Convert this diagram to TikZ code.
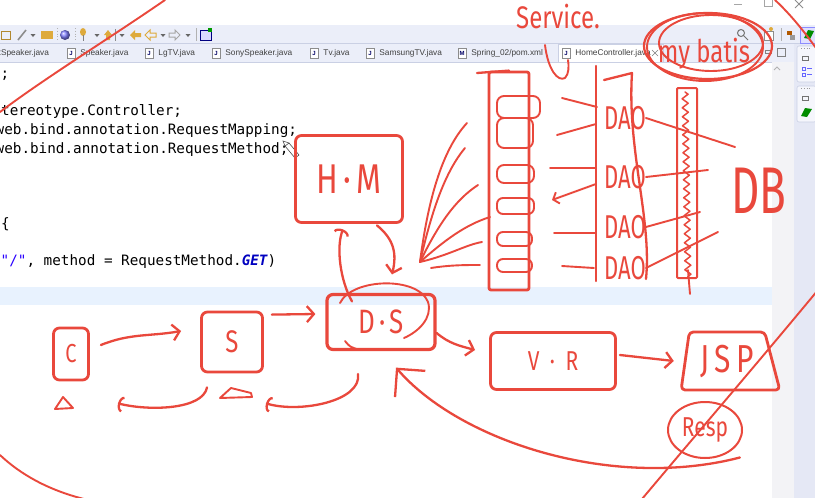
\documentclass[tikz,border=0pt]{standalone}
\usepackage{fontspec}
\usepackage{graphicx}
\usepackage{xcolor}
\usetikzlibrary{arrows.meta,positioning,shapes.geometric,decorations.pathmorphing}

\newfontfamily\codefont{DejaVu Sans Mono}
\newfontfamily\uifont{Liberation Sans}
\newfontfamily\handfont{Fira Sans}

\definecolor{ink}{RGB}{233,72,60}
\definecolor{barbg}{RGB}{235,238,249}
\definecolor{barline}{RGB}{202,208,228}
\definecolor{curline}{RGB}{232,242,254}
\definecolor{strblue}{RGB}{42,0,255}
\definecolor{kwblue}{RGB}{0,0,192}
\definecolor{scrollbg}{RGB}{243,243,246}
\definecolor{panelbg}{RGB}{229,232,245}
\definecolor{icongold}{RGB}{222,170,60}

\newcommand{\tallish}[2][1.3]{\scalebox{1}[#1]{#2}}

\tikzset{
    inkline/.style={
        draw=ink,
        line width=2.3pt,
        line cap=round,
        line join=round
    },
    thinink/.style={
        inkline,
        line width=1.9pt
    },
    handbox/.style={
        inkline,
        line width=2.8pt,
        rounded corners=6pt,
        inner sep=0pt
    },
    handtext/.style={
        text=ink,
        inner sep=0pt,
        font=\handfont\fontsize{#1}{#1}\selectfont
    },
    barbtip/.style={
        -{Straight Barb[length=7pt,width=16pt]}
    },
    bigbarbtip/.style={
        -{Straight Barb[length=20pt,width=40pt]}
    },
    hooktip/.style={
        -{Arc Barb[length=5pt,width=16pt]}
    },
    codeline/.style={
        anchor=base west,
        inner sep=0pt,
        font=\codefont\fontsize{14.3}{16}\selectfont
    },
    tablabel/.style={
        anchor=west,
        inner sep=0pt,
        text=black!75,
        font=\uifont\fontsize{8.3}{10}\selectfont
    },
    tabicon/.style={
        draw=black!45,
        fill=white,
        line width=0.5pt,
        minimum width=8pt,
        minimum height=10pt,
        inner sep=0pt,
        text=blue!40!black,
        font=\uifont\fontsize{6}{6}\selectfont\bfseries
    }
}

\begin{document}
\begin{tikzpicture}[x=1pt,y=-1pt]
    \useasboundingbox (0,0) rectangle (815,498);
    \clip (0,0) rectangle (815,498);
    \fill[white] (0,0) rectangle (815,498);

    % eclipse window
    \fill[barbg] (0,25) rectangle (815,62);
    \draw[barline, line width=0.6pt] (0,43.5) -- (815,43.5);
    \draw[barline, line width=0.8pt] (0,62) -- (772,62);
    \filldraw[fill=white, draw=barline, line width=0.6pt] (558,62.4) -- (558,44.5) -- (663,44.5) -- (663,62.4);
    \fill[scrollbg] (772,62.4) rectangle (794,498);
    \fill[panelbg] (794,44) rectangle (815,498);
    \fill[curline] (0,287) rectangle (772,305);

    \draw[black!35, line width=0.8pt] (734,4) -- (742,4);
    \draw[black!35, line width=0.8pt] (764,-1) rectangle (772,6);
    \draw[black!45, line width=0.8pt] (795,0) -- (803,8) (803,0) -- (795,8);

    % toolbar
    \draw[icongold!80!black, line width=1pt] (1,31) rectangle (10,39);
    \draw[black!45, line width=1.6pt] (18,40) -- (26,30);
    \fill[icongold] (41,31) rectangle (53,39);
    \draw[black!30, dotted, line width=0.8pt] (57,28) -- (57,41);
    \shade[ball color=blue!50] (65,35) circle [radius=5pt];
    \draw[black!30, dotted, line width=0.8pt] (75,28) -- (75,41);
    \fill[icongold] (83,32) ellipse [x radius=3pt, y radius=4pt];
    \draw[black!50, line width=0.8pt] (83,35) -- (83,41);
    \fill[icongold] (104,35) -- (108,30) -- (112,35) -- (110,35) -- (110,40) -- (106,40) -- (106,35) -- cycle;
    \draw[black!45, line width=0.8pt] (115,29) -- (115,41);
    \fill[icongold] (130,35) -- (135,30) -- (135,33) -- (141,33) -- (141,37) -- (135,37) -- (135,40) -- cycle;
    \draw[icongold, line width=1pt] (145,35) -- (150,30) -- (150,33) -- (156,33) -- (156,37) -- (150,37) -- (150,40) -- cycle;
    \draw[black!35, line width=1pt] (180,35) -- (175,30) -- (175,33) -- (169,33) -- (169,37) -- (175,37) -- (175,40) -- cycle;
    \draw[black!30, line width=0.8pt] (196,28) -- (196,41);
    \filldraw[fill=blue!15, draw=blue!50!black, line width=0.6pt] (200,30) rectangle (211,40);
    \fill[green!60!black] (208,28) rectangle (212,32);
    \foreach \dx in {33,97,122,163,188}
        \fill[black!60] (\dx-2.5,34) -- (\dx+2.5,34) -- (\dx,37) -- cycle;

    \draw[black!55, line width=1pt] (741,33) circle [radius=3.5pt] (744,36) -- (748,40);
    \filldraw[fill=white, draw=black!45, line width=0.6pt] (764,31) rectangle (773,40);
    \fill[icongold] (771,29) circle [radius=2pt];
    \draw[black!30, line width=0.8pt] (781,28) -- (781,41);
    \fill[orange!70!black] (787,31) rectangle (792,35);
    \fill[black!40] (790,35) rectangle (795,40);
    \filldraw[fill=blue!12, draw=blue!45, line width=0.6pt] (800,27) rectangle (815,43);
    \fill[green!55!black] (804,38) -- (808,30) -- (814,31) -- (810,39) -- cycle;

    % tabs
    \node[tablabel] (tab1) at (-1.5,53) {tSpeaker.java};
    \node[tabicon] (ic2) at (71,53) {J};
    \node[tablabel, right=5pt of ic2] (tab2) {Speaker.java};
    \node[tabicon] (ic3) at (149,53) {J};
    \node[tablabel, right=5pt of ic3] (tab3) {LgTV.java};
    \node[tabicon] (ic4) at (216,53) {J};
    \node[tablabel, right=5pt of ic4] (tab4) {SonySpeaker.java};
    \node[tabicon] (ic5) at (314,53) {J};
    \node[tablabel, right=5pt of ic5] (tab5) {Tv.java};
    \node[tabicon] (ic6) at (370,53) {J};
    \node[tablabel, right=5pt of ic6] (tab6) {SamsungTV.java};
    \node[tabicon] (ic7) at (462,53) {M};
    \node[tablabel, right=5pt of ic7] (tab7) {Spring\_02/pom.xml};
    \node[tabicon] (ic8) at (566,53) {J};
    \node[tablabel, right=5pt of ic8] (tab8) {HomeController.java};
    \draw[black!50, line width=0.6pt] (652,50) -- (658,56) (658,50) -- (652,56);
    \draw[black!50, line width=0.6pt] (765,50) rectangle (771,53);
    \draw[black!50, line width=0.6pt] (777,48) rectangle (785,56);
    \draw[black!30, line width=0.8pt] (774,70) -- (777,67) -- (780,70);

    % side panel
    \filldraw[fill=barbg!50!white, draw=barline, line width=0.6pt, rounded corners=2pt] (797,46) rectangle (816,82);
    \filldraw[fill=barbg!50!white, draw=barline, line width=0.6pt, rounded corners=2pt] (797,86) rectangle (816,122);
    \draw[black!40, dotted, line width=0.8pt] (801,48.5) -- (812,48.5) (801,88.5) -- (812,88.5);
    \draw[black!55, line width=0.6pt] (802,56) rectangle (808,60) (802,96) rectangle (808,100);
    \draw[blue!60, line width=1pt] (802,67) rectangle (805,70) (802,73) rectangle (805,76) (807,68.5) -- (812,68.5) (807,74.5) -- (812,74.5);
    \fill[green!55!black] (801,116) -- (805,108) -- (812,109) -- (807,117) -- cycle;

    % code
    \node[codeline] (ln1) at (0.5,78) {;};
    \node[codeline] (ln2) at (1,115.5) {tereotype.Controller;};
    \node[codeline] (ln3) at (-4.5,134.3) {web.bind.annotation.RequestMapping;};
    \node[codeline] (ln4) at (-4.5,153) {web.bind.annotation.RequestMethod;};
    \node[codeline] (ln5) at (1,228) {\{};
    \node[codeline] (ln6) at (0.5,265.5) {\textcolor{strblue}{"/"}, method = RequestMethod.\textcolor{kwblue}{\bfseries\itshape GET})};
    \filldraw[fill=white, draw=black!70, line width=0.6pt] (285,146) -- (289,143) -- (299,155) -- (295,158) -- cycle;
    \draw[black!70, line width=0.6pt] (285,146) -- (283,141) -- (289,143);

    % strokes across the screen
    \draw[thinink] (165,0) .. controls (110,38) and (45,78) .. (0,112);
    \draw[thinink] (775,0) .. controls (790,14) and (803,30) .. (816,48);
    \draw[thinink] (0,455) .. controls (20,474) and (48,490) .. (84,499);
    \draw[thinink] (818,290) .. controls (760,360) and (700,430) .. (642,499);

    % request flow
    \node[handbox, minimum width=35pt, minimum height=52pt, handtext=20] (client) at (71,354) {\tallish{C}};
    \node[handbox, minimum width=61pt, minimum height=60pt, handtext=24] (s) at (232,342) {\tallish{S}};
    \node[handbox, line width=3.2pt, minimum width=108pt, minimum height=55pt, handtext=26] (ds) at (381,322) {\tallish{D\,·\,S}};
    \node[handbox, minimum width=107pt, minimum height=87pt, handtext=32] (hm) at (349,179) {\tallish{H\,·\,M}};
    \node[handbox, minimum width=125pt, minimum height=57pt, handtext=21] (vr) at (553,361) {\tallish{V\enspace·\enspace R}};
    \node[handbox, trapezium, trapezium left angle=80, trapezium right angle=72, trapezium stretches=true,
        minimum width=99pt, minimum height=58pt, rounded corners=4pt, handtext=30] (jsp) at (727,361) {\tallish{J\,S\,P}};
    \node[handbox, ellipse, line width=2pt, minimum width=74pt, minimum height=56pt, handtext=21] (resp) at (705,430) {\tallish{Resp}};

    \draw[inkline, barbtip] ([shift={(11pt,9pt)}]client.east) to[out=22,in=190] ([shift={(-19pt,11pt)}]s.west);
    \draw[inkline, barbtip] ([shift={(8pt,-4pt)}]s.north east) -- ([shift={(-10pt,8pt)}]ds.west);
    \draw[inkline, barbtip] ([shift={(0pt,-11pt)}]ds.east) to[out=-40,in=165] ([shift={(-14pt,11pt)}]vr.west);
    \draw[inkline, barbtip] ([shift={(3pt,6pt)}]vr.east) -- ([shift={(-10pt,0pt)}]jsp.west);
    \draw[inkline, bigbarbtip] ([shift={(8pt,-7pt)}]resp.south east) .. controls +(-127pt,-33pt) and +(64pt,-74pt) .. ([shift={(15pt,-16.5pt)}]ds.south);
    \draw[inkline, hooktip] ([shift={(-23pt,-23pt)}]ds.south) .. controls +(4pt,-27pt) and +(34pt,-10pt) .. ([shift={(34pt,-30pt)}]s.south);
    \draw[inkline, hooktip] ([shift={(-25pt,-14pt)}]s.south) .. controls +(-4pt,-22pt) and +(32pt,-8pt) .. ([shift={(47pt,-22pt)}]client.south);
    \draw[inkline, barbtip] ([shift={(28pt,-1.5pt)}]hm.south) .. controls +(17pt,-14pt) and +(5pt,21pt) .. ([shift={(11pt,18.5pt)}]ds.north);
    \draw[inkline, hooktip] ([shift={(-29pt,-8.5pt)}]ds.north) .. controls +(-12pt,21pt) and +(-7pt,-17pt) .. ([shift={(-6pt,-5.5pt)}]hm.south);

    \draw[thinink] (340,303) .. controls (352,278) and (418,276) .. (428,302) .. controls (433,318) and (418,332) .. (404,338);
    \draw[thinink] (345,341) .. controls (350,347) .. (360,350);
    \draw[thinink] (55,409) -- (63,397) -- (73,408) -- cycle;
    \draw[thinink] (220,398) -- (231,388) -- (251,393) -- (252,397) -- cycle;

    % service layer
    \node[handtext=24] (service) at (558,17) {\tallish{Service.}};
    \draw[thinink] (545,45) .. controls (548,70) and (558,82) .. (565,78) .. controls (569,74) and (569,66) .. (568,60);
    \node[handbox, rounded corners=2pt, minimum width=40pt, minimum height=218pt] (svc) at (509,181) {};
    \draw[inkline] (477,73) -- (svc.north);
    \draw[thinink, rounded corners=7pt] (497,96) rectangle (540,118);
    \draw[thinink, rounded corners=7pt] (497,118) rectangle (533,148);
    \draw[thinink, rounded corners=7pt] (497,165) rectangle (534,183);
    \draw[thinink, rounded corners=6pt] (497,198) rectangle (534,214);
    \draw[thinink, rounded corners=6pt] (497,232) rectangle (532,246);
    \draw[thinink, rounded corners=6pt] (497,259) rectangle (532,272);

    \coordinate (fan) at (420,262);
    \draw[thinink] (fan) .. controls (428,200) and (442,150) .. (467,123);
    \draw[thinink] (fan) .. controls (432,210) and (445,172) .. (465,148);
    \draw[thinink] (fan) .. controls (438,225) and (455,200) .. (478,185);
    \draw[thinink] (fan) .. controls (445,240) and (465,225) .. (490,217);
    \draw[thinink] (fan) .. controls (450,255) and (465,245) .. (482,242);
    \draw[thinink] (431,268) .. controls (450,265) and (465,265) .. (480,265);

    \draw[thinink] (562,98) -- (597,107);
    \draw[thinink] (557,135) -- (596,124);
    \draw[thinink] (550,168) -- (596,168);
    \draw[thinink, -{Straight Barb[length=5pt,width=12pt]}] (596,184) -- (552,200);
    \draw[thinink] (554,233) -- (595,233);
    \draw[thinink] (562,266) -- (594,268);

    % dao layer
    \draw[inkline] (596,66) -- (596,281);
    \draw[inkline] (604,80) -- (632,73) .. controls (627,150) and (652,220) .. (646,279);
    \node[handtext=22] (dao1) at (625,118) {\tallish[1.5]{DAO}};
    \node[handtext=22] (dao2) at (625,177) {\tallish[1.5]{DAO}};
    \node[handtext=22] (dao3) at (625,227) {\tallish[1.5]{DAO}};
    \node[handtext=22] (dao4) at (625,268) {\tallish[1.5]{DAO}};

    % database
    \node[handbox, line width=2pt, rounded corners=1pt, minimum width=20pt, minimum height=190pt] (dbcol) at (687,183) {};
    \draw[thinink, line width=1.5pt, decorate, decoration={zigzag, segment length=9pt, amplitude=3pt}] (685,92) -- (688,278);
    \draw[thinink] (688,270) -- (690,294);
    \draw[thinink] (dao1.east) -- (735,147);
    \draw[thinink] (dao2.east) -- (708,170);
    \draw[thinink] (dao3.east) -- (700,212);
    \draw[thinink] (dao4.east) -- (718,232);
    \node[handtext=44] (db) at (759,191) {\tallish[1.5]{DB}};

    \node[handbox, ellipse, line width=2.2pt, minimum width=128pt, minimum height=66pt] (mybatis) at (708,46) {};
    \node[handtext=24] (mybatislabel) at (704,54) {\tallish{my batis}};
    \draw[thinink] (705,47) ellipse [x radius=58pt, y radius=34pt];
    \draw[thinink] (711,43) ellipse [x radius=52pt, y radius=28pt];
\end{tikzpicture}
\end{document}
